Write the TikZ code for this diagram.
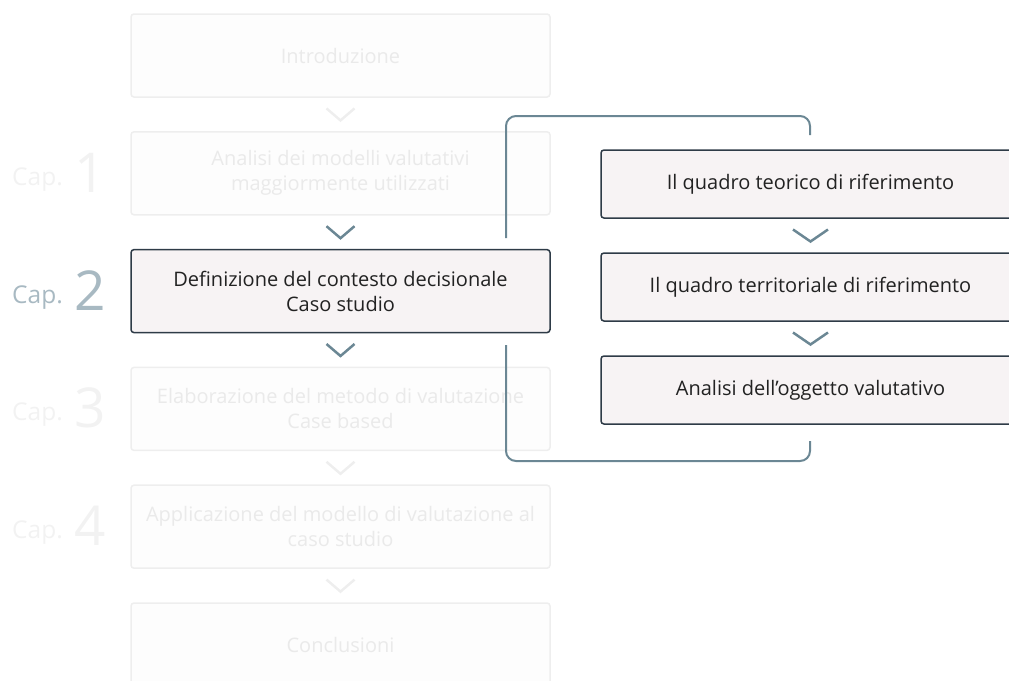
\documentclass[tikz,border=0pt]{standalone}
\usepackage{fontspec}
\setmainfont{Open Sans}
\usetikzlibrary{calc}

\definecolor{activeline}{HTML}{2E3B47}
\definecolor{activefill}{HTML}{F7F3F4}
\definecolor{activetext}{HTML}{222222}
\definecolor{fadeline}{HTML}{EEEEEE}
\definecolor{fadefill}{HTML}{FDFDFD}
\definecolor{fadetext}{HTML}{EAEAEA}
\definecolor{chevblue}{HTML}{6B8794}
\definecolor{capblue}{HTML}{A8B9C2}
\definecolor{capfade}{HTML}{F2F2F2}

% chevron: style, centre, half width
\newcommand{\chevron}[3]{\draw[#1] ($(#2)+(-#3,-6)$) -- ++(#3,12) -- ++(#3,-12);}

\begin{document}
\begin{tikzpicture}[x=1pt,y=-1pt,
    faded/.style={draw=fadeline, fill=fadefill, text=fadetext, rounded corners=3pt,
      line width=1.5pt, minimum width=419pt, minimum height=83pt, inner sep=0pt,
      align=center, font=\fontsize{20}{25}\selectfont},
    active/.style={faded, draw=activeline, fill=activefill, text=activetext},
    subbox/.style={active, minimum height=68pt},
    chevfade/.style={draw=fadeline, line width=2.5pt},
    chevon/.style={draw=chevblue, line width=2.5pt},
    bracket/.style={draw=chevblue, line width=2pt, rounded corners=10pt},
    caplbl/.style={anchor=base west, inner sep=0pt, font=\fontsize{24.5}{28}\selectfont},
    capnum/.style={anchor=base west, inner sep=0pt, font=\fontsize{55}{60}\selectfont}
  ]
  \useasboundingbox (0,0) rectangle (1009,680);
  \clip (0,0) rectangle (1009,680);

  % main column
  \node[faded] (intro) at (340.5,55.5) {Introduzione};
  \node[faded] (cap1) at (340.5,173.3) {Analisi dei modelli valutativi\\maggiormente utilizzati};
  \node[active] (cap2) at (340.5,291.1) {Definizione del contesto decisionale\\Caso studio};
  \node[faded] (cap3) at (340.5,408.9) {Elaborazione del metodo di valutazione\\Case based};
  \node[faded] (cap4) at (340.5,526.7) {Applicazione del modello di valutazione al\\caso studio};
  \node[faded] (concl) at (340.5,644.5) {Conclusioni};

  \chevron{chevfade}{$(intro.south)!0.5!(cap1.north)$}{14}
  \chevron{chevon}{$(cap1.south)!0.5!(cap2.north)$}{14}
  \chevron{chevon}{$(cap2.south)!0.5!(cap3.north)$}{14}
  \chevron{chevfade}{$(cap3.south)!0.5!(cap4.north)$}{14}
  \chevron{chevfade}{$(cap4.south)!0.5!(concl.north)$}{14}

  % chapter labels
  \node[caplbl, text=capfade] (l1) at (12,185.3) {Cap.};
  \node[capnum, text=capfade] (n1) at (74,192.3) {1};
  \node[caplbl, text=capblue] (l2) at (12,303.1) {Cap.};
  \node[capnum, text=capblue] (n2) at (74,310.1) {2};
  \node[caplbl, text=capfade] (l3) at (12,420.9) {Cap.};
  \node[capnum, text=capfade] (n3) at (74,427.9) {3};
  \node[caplbl, text=capfade] (l4) at (12,538.7) {Cap.};
  \node[capnum, text=capfade] (n4) at (74,545.7) {4};

  % chapter 2 detail
  \node[subbox] (teo) at (810.5,184) {Il quadro teorico di riferimento};
  \node[subbox] (terr) at (810.5,287) {Il quadro territoriale di riferimento};
  \node[subbox] (ogg) at (810.5,390) {Analisi dell’oggetto valutativo};

  \chevron{chevon}{$(teo.south)!0.5!(terr.north)$}{17.5}
  \chevron{chevon}{$(terr.south)!0.5!(ogg.north)$}{17.5}

  \coordinate (brA) at (506,238);
  \coordinate (brB) at (810,116);
  \coordinate (brC) at (810,135);
  \coordinate (brD) at (506,345);
  \coordinate (brE) at (810,461);
  \coordinate (brF) at (810,441);
  \draw[bracket] (brA) |- (brB) -- (brC);
  \draw[bracket] (brD) |- (brE) -- (brF);
\end{tikzpicture}
\end{document}
